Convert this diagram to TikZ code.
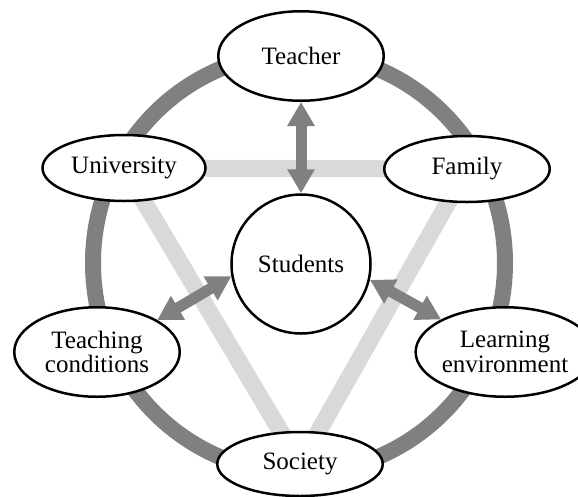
\documentclass[tikz,border=0pt]{standalone}
\usepackage{fontspec}
\setmainfont{Liberation Serif}
\usetikzlibrary{shapes.geometric,arrows.meta}
\pgfdeclarelayer{back}
\pgfsetlayers{back,main}
\definecolor{ringgray}{HTML}{808080}
\definecolor{bandgray}{HTML}{D9D9D9}
\begin{document}
\begin{tikzpicture}[x=1pt,y=-1pt,
  actor/.style={ellipse, draw=black, line width=2.5pt, fill=white, inner sep=0pt,
    align=center, font=\fontsize{25}{24.5}\selectfont},
  wide/.style={minimum width=165.5pt, minimum height=89.5pt},
  flat/.style={minimum width=163pt, minimum height=66pt},
  ring/.style={draw=ringgray, line width=16pt},
  band/.style={draw=bandgray, line width=17pt, line join=round},
  link/.style={draw=ringgray, line width=11pt,
    {Triangle[length=24pt,width=26pt]}-{Triangle[length=24pt,width=26pt]}}]
\useasboundingbox (0,0) rectangle (578,496);

% actors around the student
\node[actor, wide] (teacher) at (301,56) {Teacher};
\node[actor, flat] (university) at (124,168) {University};
\node[actor, flat, minimum width=165.5pt] (family) at (467,169) {Family};
\node[actor, circle, minimum size=139pt] (students) at (301,264) {Students};
\node[actor, wide] (conditions) at (97,352) {Teaching\\conditions};
\node[actor, wide] (environment) at (505,352) {Learning\\environment};
\node[actor, wide, minimum height=64pt] (society) at (300,464) {Society};
\coordinate (hub) at (299,263);

\begin{pgfonlayer}{back}
  % outer ring joining all actors
  \draw[ring] (hub) ellipse [x radius=206pt, y radius=210pt];
  % triangle of the wider context
  \draw[band] (university.center) -- (family.center) -- (society.center) -- cycle;
  % two-way links with the students
  \draw[link] (teacher.south) -- (students.north);
  \draw[link] (students.190) -- (conditions.28);
  \draw[link] (students.-13) -- (environment.153);
\end{pgfonlayer}
\end{tikzpicture}
\end{document}
